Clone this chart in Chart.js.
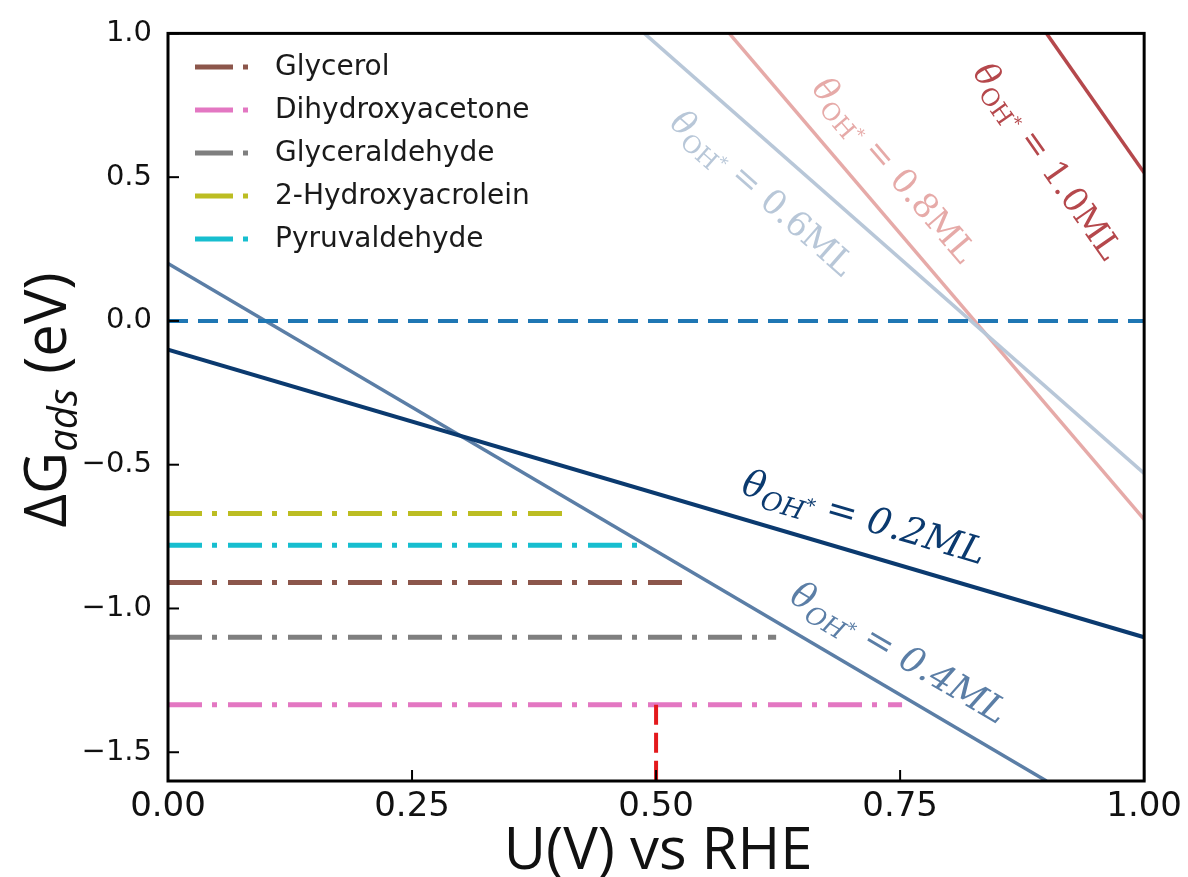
<!DOCTYPE html>
<html>
<head>
<meta charset="utf-8">
<script src="https://cdn.jsdelivr.net/npm/chart.js@4.4.1/dist/chart.umd.min.js"></script>
<style>
  html, body { margin: 0; padding: 0; background: #fff; }
  #wrap { width: 1188px; height: 877px; }
</style>
</head>
<body>
<div id="wrap"><canvas id="gChart" width="1188" height="877"></canvas></div>
<script>
// tick labels
const xTicks = [0, 0.25, 0.5, 0.75, 1.0];
const yTicks = [-1.5, -1.0, -0.5, 0.0, 0.5, 1.0];

// OH* coverage lines: [start, end] in U and in dG
const coverageNames = ['0.2ML', '0.4ML', '0.6ML', '0.8ML', '1.0ML'];
const coverageU = [[0, 1], [0, 0.9], [0.488, 1], [0.575, 1], [0.9, 1]];
const coverageG = [[-0.1, -1.1], [0.2, -1.6], [1.0, -0.53], [1.0, -0.69], [1.0, 0.515]];

// adsorption energies of species (dash-dot lines from U=0)
const species = ['Glycerol', 'Dihydroxyacetone', 'Glyceraldehyde', '2-Hydroxyacrolein', 'Pyruvaldehyde'];
const speciesG = [-0.91, -1.335, -1.10, -0.67, -0.78];
const speciesUEnd = [0.53, 0.752, 0.623, 0.413, 0.481];

// reference lines
const zeroLevel = 0.0;
const markerU = 0.5;
const markerG = [-1.335, -1.6];

// styles
const coverageColors = ['#0b3a6f', '#5b7ea6', '#b8c7d8', '#e6aaa8', '#b5484c'];
const coverageWidths = [4, 3.5, 3.5, 3.5, 3.5];
const speciesColors = ['#8c564b', '#e377c2', '#7f7f7f', '#bcbd22', '#17becf'];
// label centres (data coords) and font per coverage line
const labelPos = [[0.713, -0.683], [0.749, -1.154], [0.609, 0.445], [0.744, 0.525], [0.901, 0.556]];
const labelSize = [37, 36, 34, 34, 34];
const labelItalic = [true, true, false, false, false];

const datasets = [];

species.forEach((name, i) => {
  datasets.push({
    label: name,
    data: [{x: 0, y: speciesG[i]}, {x: speciesUEnd[i], y: speciesG[i]}],
    borderColor: speciesColors[i],
    borderWidth: 5,
    borderDash: [34, 10, 5, 11],
    borderCapStyle: 'butt',
    isSpecies: true,
    order: 5
  });
});

coverageNames.forEach((name, i) => {
  datasets.push({
    label: name,
    data: [{x: coverageU[i][0], y: coverageG[i][0]}, {x: coverageU[i][1], y: coverageG[i][1]}],
    borderColor: coverageColors[i],
    borderWidth: coverageWidths[i],
    coverageIdx: i,
    order: 3
  });
});

datasets.push({
  label: 'zero',
  data: [{x: 0, y: zeroLevel}, {x: 1, y: zeroLevel}],
  borderColor: '#1f77b4',
  borderWidth: 4,
  borderDash: [20, 10],
  order: 1
});

datasets.push({
  label: 'marker',
  data: [{x: markerU, y: markerG[0]}, {x: markerU, y: markerG[1]}],
  borderColor: '#e3191c',
  borderWidth: 4,
  borderDash: [20, 8],
  order: 1
});

// frame, inward ticks, legend, axis titles, line labels
const decorPlugin = {
  id: 'decor',
  afterDatasetsDraw(chart) {
    const ctx = chart.ctx;
    const a = chart.chartArea;
    const xs = chart.scales.x, ys = chart.scales.y;

    // line labels
    chart.data.datasets.forEach(ds => {
      if (ds.coverageIdx === undefined) return;
      const i = ds.coverageIdx;
      const p1x = xs.getPixelForValue(ds.data[0].x), p1y = ys.getPixelForValue(ds.data[0].y);
      const p2x = xs.getPixelForValue(ds.data[1].x), p2y = ys.getPixelForValue(ds.data[1].y);
      const ang = Math.atan2(p2y - p1y, p2x - p1x);
      const cx = xs.getPixelForValue(labelPos[i][0]);
      const cy = ys.getPixelForValue(labelPos[i][1]);
      const F = labelSize[i];
      const it = labelItalic[i] ? 'italic ' : '';
      const fam = '"DejaVu Serif", serif';
      const parts = [
        {t: '\u03B8', font: 'italic ' + F + 'px ' + fam, dy: 0},
        {t: 'OH', font: it + Math.round(F * 0.7) + 'px ' + fam, dy: F * 0.22},
        {t: '*', font: it + Math.round(F * 0.5) + 'px ' + fam, dy: -F * 0.05},
        {t: ' = ' + coverageNames[i], font: it + F + 'px ' + fam, dy: 0}
      ];
      ctx.save();
      let total = 0;
      parts.forEach(p => { ctx.font = p.font; p.w = ctx.measureText(p.t).width; total += p.w; });
      ctx.translate(cx, cy);
      ctx.rotate(ang);
      ctx.fillStyle = ds.borderColor;
      ctx.textBaseline = 'alphabetic';
      let x = -total / 2;
      parts.forEach(p => {
        ctx.font = p.font;
        ctx.fillText(p.t, x, F * 0.33 + p.dy);
        x += p.w;
      });
      ctx.restore();
    });

    // frame
    ctx.save();
    ctx.strokeStyle = '#000';
    ctx.lineWidth = 3;
    ctx.strokeRect(a.left, a.top, a.right - a.left, a.bottom - a.top);
    // inward ticks
    ctx.lineWidth = 2;
    xTicks.forEach(v => {
      const px = xs.getPixelForValue(v);
      ctx.beginPath(); ctx.moveTo(px, a.bottom); ctx.lineTo(px, a.bottom - 11); ctx.stroke();
    });
    yTicks.forEach(v => {
      const py = ys.getPixelForValue(v);
      ctx.beginPath(); ctx.moveTo(a.left, py); ctx.lineTo(a.left + 11, py); ctx.stroke();
    });
    ctx.restore();

    // legend
    ctx.save();
    let row = 0;
    chart.data.datasets.forEach(ds => {
      if (!ds.isSpecies) return;
      const y = 67 + row * 43;
      ctx.strokeStyle = ds.borderColor;
      ctx.lineWidth = 5;
      ctx.beginPath(); ctx.moveTo(195, y); ctx.lineTo(233, y); ctx.stroke();
      ctx.beginPath(); ctx.moveTo(243, y); ctx.lineTo(248, y); ctx.stroke();
      ctx.fillStyle = '#1a1a1a';
      ctx.font = '28px "DejaVu Sans"';
      ctx.textBaseline = 'middle';
      ctx.fillText(ds.label, 275, y + 1);
      row++;
    });
    ctx.restore();

    // axis titles
    ctx.save();
    ctx.fillStyle = '#111';
    ctx.font = '58px "Open Sans"';
    ctx.textAlign = 'center';
    ctx.textBaseline = 'alphabetic';
    ctx.fillText('U(V) vs RHE', (a.left + a.right) / 2 + 2, 869);

    ctx.translate(66, 400);
    ctx.rotate(-Math.PI / 2);
    const t1 = '\u0394G', t2 = 'ads', t3 = ' (eV)';
    ctx.font = '58px "Open Sans"';
    const w1 = ctx.measureText(t1).width, w3 = ctx.measureText(t3).width;
    ctx.font = 'italic 40px "Open Sans"';
    const w2 = ctx.measureText(t2).width;
    let x0 = -(w1 + w2 + w3) / 2;
    ctx.textAlign = 'left';
    ctx.font = '58px "Open Sans"';
    ctx.fillText(t1, x0, 0);
    ctx.font = 'italic 40px "Open Sans"';
    ctx.fillText(t2, x0 + w1, 11);
    ctx.font = '58px "Open Sans"';
    ctx.fillText(t3, x0 + w1 + w2, 0);
    ctx.restore();
  }
};

const fmt = v => (v < 0 ? '\u2212' : '') + Math.abs(v).toFixed(1);

new Chart(document.getElementById('gChart'), {
  type: 'line',
  data: { datasets },
  options: {
    responsive: false,
    animation: false,
    events: [],
    layout: { padding: { top: 30, right: 43, left: 0, bottom: 0 } },
    elements: { point: { radius: 0 }, line: { tension: 0 } },
    plugins: { legend: { display: false }, tooltip: { enabled: false } },
    scales: {
      x: {
        type: 'linear', min: 0, max: 1,
        grid: { display: false, drawTicks: false },
        border: { display: false },
        afterBuildTicks: s => { s.ticks = xTicks.map(v => ({value: v})); },
        afterFit: s => { s.height = 96; },
        ticks: {
          padding: 6,
          color: '#111',
          font: { family: 'DejaVu Sans', size: 34 },
          callback: v => Number(v).toFixed(2)
        }
      },
      y: {
        type: 'linear', min: -1.6, max: 1.0,
        grid: { display: false, drawTicks: false },
        border: { display: false },
        afterBuildTicks: s => { s.ticks = yTicks.map(v => ({value: v})); },
        afterFit: s => { s.width = 168; },
        ticks: {
          padding: 16,
          color: '#111',
          font: { family: 'DejaVu Sans', size: 29 },
          callback: v => fmt(v)
        }
      }
    }
  },
  plugins: [decorPlugin]
});
</script>
</body>
</html>
